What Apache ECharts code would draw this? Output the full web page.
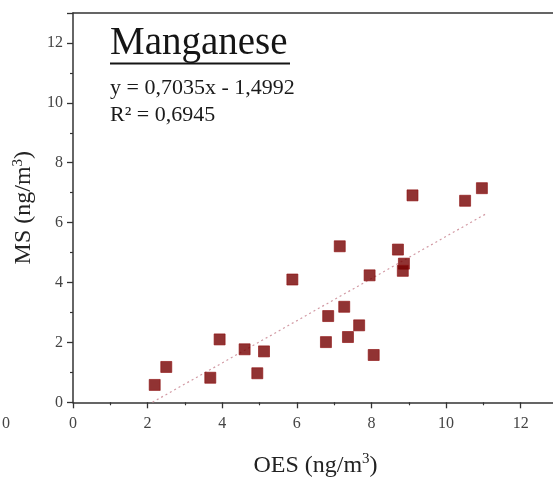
<!DOCTYPE html>
<html>
<head>
<meta charset="utf-8">
<script src="https://cdn.jsdelivr.net/npm/echarts@6/dist/echarts.min.js"></script>
<style>html,body{margin:0;padding:0;background:#fff;}#c{width:553px;height:478px;}</style>
</head>
<body>
<div id="c"></div>
<script>
// Data
var oes = [2.19, 2.50, 3.68, 3.93, 4.60, 4.94, 5.12, 5.88, 7.15, 6.84, 6.78, 7.27, 7.37, 7.67, 7.95, 8.06, 8.71, 8.87, 8.84, 9.10, 10.51, 10.96];
var ms  = [0.58, 1.18, 0.82, 2.10, 1.77, 0.97, 1.70, 4.10, 5.21, 2.88, 2.01, 3.19, 2.18, 2.57, 4.24, 1.58, 5.10, 4.63, 4.39, 6.91, 6.73, 7.15];
var trendX = [2.13, 11.08];
var trendY = [0.00, 6.30];
var xTicks = [0, 2, 4, 6, 8, 10, 12];
var yTicks = [0, 2, 4, 6, 8, 10, 12];
var titleText = 'Manganese';
var eqText = 'y = 0,7035x - 1,4992';
var r2Text = 'R\u00b2 = 0,6945';

var points = oes.map(function (x, i) { return [x, ms[i]]; });
var trend = trendX.map(function (x, i) { return [x, trendY[i]]; });

var serif = '"Liberation Serif", "Times New Roman", serif';
var nameRich = {
  a: { fontFamily: serif, fontSize: 24, color: '#222', lineHeight: 28 },
  s: { fontFamily: serif, fontSize: 15, color: '#222', verticalAlign: 'top', lineHeight: 28 }
};
var chart = echarts.init(document.getElementById('c'));
chart.setOption({
  animation: false,
  backgroundColor: '#fff',
  grid: { left: 73, top: 13, width: 485, height: 389.3, containLabel: false, outerBoundsMode: 'none' },
  xAxis: [{
    type: 'value', min: 0, max: 13, interval: 2, position: 'bottom',
    name: '{a|OES (ng/m}{s|3}{a|)}', nameLocation: 'middle', nameGap: 49,
    nameTextStyle: { rich: nameRich },
    axisLine: { show: true, onZero: false, lineStyle: { color: '#333', width: 1.5 } },
    axisTick: { show: true, inside: false, length: 6, lineStyle: { color: '#333', width: 1.3 } },
    minorTick: { show: true, splitNumber: 2, length: 3, lineStyle: { color: '#333', width: 1.2 } },
    axisLabel: { margin: 13, fontFamily: serif, fontSize: 16, color: '#444', showMaxLabel: false,
      formatter: function (v) { return xTicks.indexOf(v) >= 0 ? String(v) : ''; } },
    splitLine: { show: false }
  }, {
    type: 'value', min: 0, max: 13, position: 'top',
    axisLine: { show: true, onZero: false, lineStyle: { color: '#333', width: 1.5 } },
    axisTick: { show: false }, axisLabel: { show: false }, splitLine: { show: false }
  }],
  yAxis: {
    type: 'value', min: 0, max: 13, interval: 2,
    name: '{a|MS (ng/m}{s|3}{a|)}', nameLocation: 'middle', nameGap: 31, nameRotate: 90,
    nameTextStyle: { rich: nameRich },
    axisLine: { show: true, onZero: false, lineStyle: { color: '#333', width: 1.5 } },
    axisTick: { show: true, inside: false, length: 6, lineStyle: { color: '#333', width: 1.3 } },
    minorTick: { show: true, splitNumber: 2, length: 3, lineStyle: { color: '#333', width: 1.2 } },
    axisLabel: { margin: 10, fontFamily: serif, fontSize: 16, color: '#444', showMaxLabel: false,
      formatter: function (v) { return yTicks.indexOf(v) >= 0 ? String(v) : ''; } },
    splitLine: { show: false }
  },
  series: [{
    type: 'line', data: trend, showSymbol: false, symbol: 'none',
    lineStyle: { color: '#d29aa4', width: 1.2, type: [2, 3] }, z: 1
  }, {
    type: 'scatter', data: points, symbol: 'rect', symbolSize: 11,
    itemStyle: { color: '#760000', borderColor: '#8e1010', borderWidth: 0.8 }, z: 3
  }],
  graphic: [
    { type: 'text', left: 110, top: 24, style: { text: titleText, font: '39px ' + serif, fill: '#151515' } },
    { type: 'rect', shape: { x: 110, y: 62.5, width: 180, height: 2 }, style: { fill: '#151515' } },
    { type: 'text', left: 110, top: 77, style: { text: eqText, font: '22px ' + serif, fill: '#1a1a1a' } },
    { type: 'text', left: 110, top: 104, style: { text: r2Text, font: '22px ' + serif, fill: '#1a1a1a' } },
    { type: 'text', left: 2, top: 416, style: { text: '0', font: '16px ' + serif, fill: '#444' } }
  ]
});
</script>
</body>
</html>
